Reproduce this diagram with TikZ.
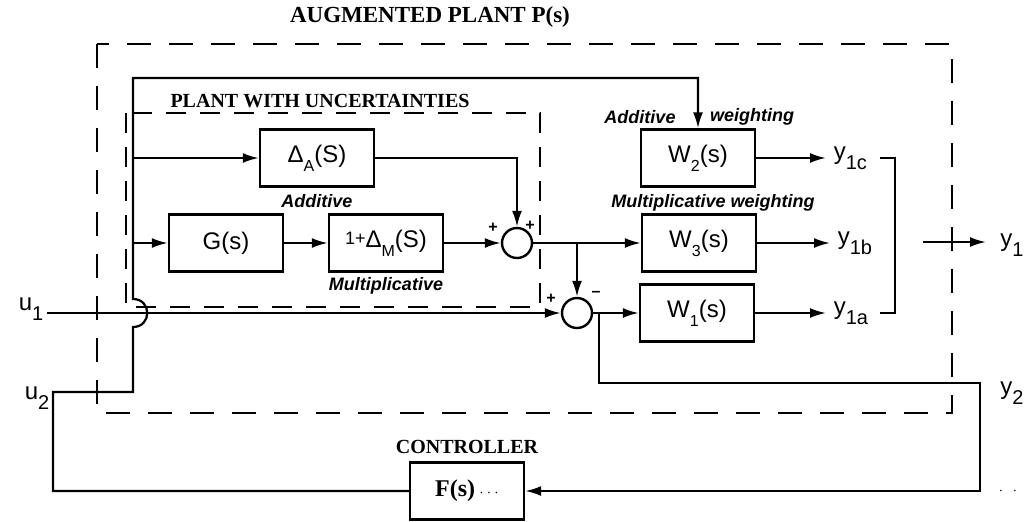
\documentclass[tikz,border=0pt]{standalone}
\usepackage{fontspec}
\setmainfont{Liberation Serif}
\setsansfont{Liberation Sans}
\usetikzlibrary{arrows.meta,positioning,calc}
\newcommand\lo[1]{\raisebox{-0.7ex}{\footnotesize #1}}
\newcommand\loo[1]{\raisebox{-0.8ex}{\normalsize #1}}

\begin{document}
\begin{tikzpicture}[x=0.5pt, y=-0.5pt, line width=1.1pt, font=\sffamily,
  blk/.style={draw, line width=1.2pt, minimum width=57pt, minimum height=28.5pt, font=\sffamily\large},
  sumc/.style={draw, circle, line width=1.2pt, minimum size=15pt, inner sep=0pt},
  sig/.style={-{Latex[length=8pt,width=5pt]}},
  note/.style={font=\sffamily\bfseries\itshape\small},
  lbl/.style={font=\sffamily\large},
  sgn/.style={font=\sffamily\footnotesize\bfseries},
  ttl/.style={font=\rmfamily\bfseries},
  outer/.style={dash pattern=on 12pt off 9pt, line width=1.2pt},
  inner/.style={dash pattern=on 10pt off 7pt, line width=1.2pt}]
\useasboundingbox (0,0) rectangle (1030,521);
\draw[outer] (97,44) rectangle (952,413); \draw[inner] (126,113) rectangle (540,307);
\node[ttl, font=\rmfamily\bfseries\fontsize{11.5}{13}\selectfont] (tP) at (430,17) {AUGMENTED PLANT P(s)}; \node[ttl] (tU) at (320,101) {PLANT WITH UNCERTAINTIES}; \node[ttl] (tF) at (467,447) {CONTROLLER};
\node[blk] (dA) at (317,158) {Δ\lo{A}(S)}; \node[blk] (G) at (226,243) {G(s)}; \node[blk] (dM) at (386,243) {\raisebox{0.2ex}{\small 1+}Δ\lo{M}(S)};
\node[sumc] (sum1) at (517,243) {}; \node[sumc] (sum2) at (577,313) {};
\node[blk] (W2) at (698,158) {W\lo{2}(s)}; \node[blk] (W3) at (699,243) {W\lo{3}(s)}; \node[blk] (W1) at (697,313) {W\lo{1}(s)};
\node[blk] (F) at (467,491) {{\rmfamily\bfseries F(s)}\,{\scriptsize$\cdots$}};
\node[note] (nA) at (317,201) {Additive}; \node[note] (nM) at (386,286) {Multiplicative};
\node[note] (nAw1) at (640,117) {Additive}; \node[note] (nAw2) at (752,117) {weighting}; \node[note] (nMw) at (713,203) {Multiplicative weighting};
\coordinate (u1) at (47,313); \coordinate (u2) at (53,392); \coordinate (ju) at (133,392); \coordinate (jt) at (133,327); \coordinate (jb) at (133,299); \coordinate (top) at (133,78);
\coordinate (b1) at (133,158); \coordinate (b2) at (133,243); \coordinate (b3) at (sum2 |- sum1); \coordinate (b4) at (599,313); \coordinate (y2c) at (980,383);
\draw[sig] (F.west) -| (u2) -- (ju) -- (jt) .. controls (152,327) and (152,299) .. (jb) -- (top) -| (W2.north);
\draw[sig] (b1) -- (dA); \draw[sig] (b2) -- (G); \draw[sig] (G) -- (dM); \draw[sig] (dM) -- (sum1); \draw[sig] (dA) -| (sum1);
\draw[sig] (sum1) -- (W3); \draw[sig] (b3) -- (sum2); \draw[sig] (u1) -- (sum2); \draw[sig] (sum2) -- (W1);
\draw[sig] (b4) |- (y2c) |- (F.east);
\coordinate (y1c) at (826,158); \coordinate (y1b) at (830,243); \coordinate (y1a) at (826,313);
\draw[sig] (W2) -- (y1c); \draw[sig] (W3) -- (y1b); \draw[sig] (W1) -- (y1a);
\coordinate (k1) at (880,158); \coordinate (k2) at (880,313); \draw (k1) -- ++(15,0) |- (k2);
\coordinate (o1) at (923,242); \coordinate (o2) at (986,242); \draw[sig] (o1) -- (o2);
\node[lbl, anchor=west] (ly1c) at (y1c) {y\loo{1c}}; \node[lbl, anchor=west] (ly1b) at (y1b) {y\loo{1b}}; \node[lbl, anchor=west] (ly1a) at (y1a) {y\loo{1a}};
\node[lbl] (ly1) at (1012,245) {y\loo{1}}; \node[lbl] (ly2) at (1012,393) {y\loo{2}};
\node[lbl] (lu1) at (31,309) {u\loo{1}}; \node[lbl] (lu2) at (37,398) {u\loo{2}};
\node[sgn] (p1) at (493,228) {+}; \node[sgn] (p2) at (530,226) {+};
\node[sgn] (p3) at (551,299) {+}; \node[sgn] (m1) at (596,294) {--};
\node (dots) at (1008,491) {\scriptsize$\cdot\;\;\cdot$};
\end{tikzpicture}
\end{document}
